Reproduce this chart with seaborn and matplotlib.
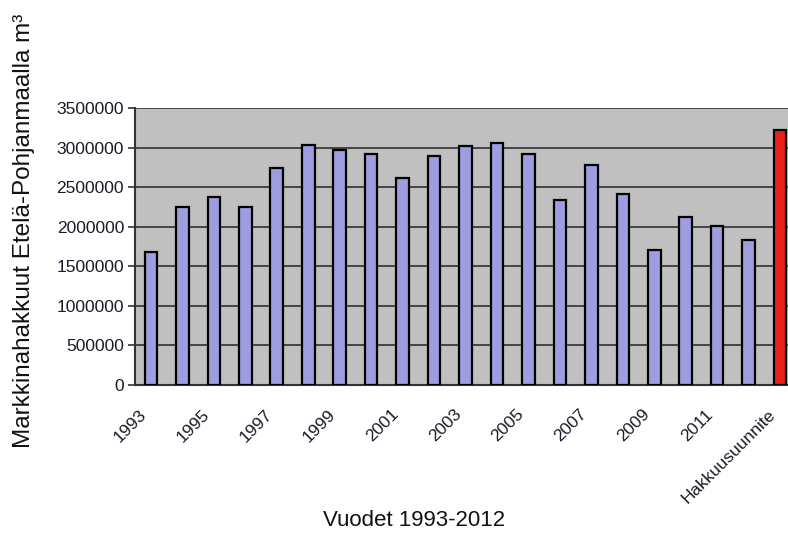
import matplotlib
matplotlib.use("Agg")
import matplotlib.pyplot as plt
import matplotlib.transforms as mtransforms
import seaborn as sns
import pandas as pd
import numpy as np

# Annual market fellings in Etelä-Pohjanmaa (m³) and the felling plan estimate
years = [str(y) for y in range(1993, 2013)]
fellings = [1680000, 2245000, 2380000, 2245000, 2745000, 3035000, 2975000,
            2925000, 2620000, 2895000, 3015000, 3060000, 2925000, 2340000,
            2775000, 2415000, 1710000, 2120000, 2005000, 1830000]
plan_label = "Hakkuusuunnite"
plan_value = 3225000

categories = years + [plan_label]
values = fellings + [plan_value]
kinds = ["toteutunut"] * len(years) + ["suunnite"]
tick_labels = years[::2] + [plan_label]

df = pd.DataFrame({"kategoria": categories, "m3": values, "laji": kinds})

sns.set_style("white")
plt.rcParams["font.family"] = ["Liberation Sans", "DejaVu Sans"]

fig = plt.figure(figsize=(7.88, 5.36), dpi=100)
ax = fig.add_axes([0.1716, 0.2817, 0.8383, 0.5168])
ax.set_facecolor("#c0c0c0")

sns.barplot(data=df, x="kategoria", y="m3", hue="laji", order=categories,
            palette={"toteutunut": "#9d9de0", "suunnite": "#e8221a"},
            saturation=1, width=0.4, dodge=False, edgecolor="black",
            linewidth=1.6, legend=False, ax=ax, zorder=3)
ax.set_xlabel("")
ax.set_ylabel("")

n = len(categories)
ax.set_xlim(-0.5, n - 0.5)
ax.set_ylim(0, 3500000)
ax.set_yticks(np.arange(0, 3500001, 500000))
ax.set_yticklabels([f"{int(v)}" for v in np.arange(0, 3500001, 500000)],
                   fontsize=12.5, color="#1a1a2a")
ax.yaxis.grid(True, color="#3a3a3a", linewidth=1.3, zorder=1)
ax.set_axisbelow(True)

ax.set_xticks(list(range(0, n, 2)))
ax.set_xticklabels(tick_labels, rotation=45, ha="right",
                   rotation_mode="anchor", fontsize=12.5, color="#1a1a2a")
ax.set_xticks(np.arange(0.5, n - 0.5, 1.0), minor=True)
ax.tick_params(axis="x", which="major", length=0, pad=12)
ax.tick_params(axis="x", which="minor", length=5, width=1.2, color="#333333")
ax.tick_params(axis="y", which="major", length=5, width=1.2, color="#333333",
               left=True, pad=3)

# nudge the slanted year labels a little left and down
shift = mtransforms.ScaledTranslation(-0.12, -0.05, fig.dpi_scale_trans)
for lbl in ax.get_xticklabels():
    lbl.set_transform(lbl.get_transform() + shift)

for side in ["top", "right"]:
    ax.spines[side].set_visible(False)
for side in ["left", "bottom"]:
    ax.spines[side].set_color("#333333")
    ax.spines[side].set_linewidth(1.5)

fig.text(414 / 788, 1 - 521 / 536, "Vuodet 1993-2012", fontsize=16,
         ha="center", va="center", color="#111111")
fig.text(24 / 788, 1 - 231 / 536, "Markkinahakkuut Etelä-Pohjanmaalla m³",
         fontsize=17.5, rotation=90, ha="center", va="center", color="#111111")

fig.savefig("out.png", dpi=100)
